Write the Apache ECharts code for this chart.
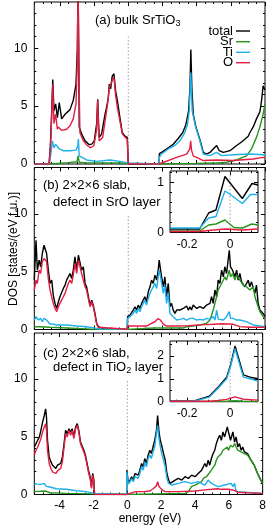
<!DOCTYPE html>
<html><head><meta charset="utf-8">
<script src="https://cdn.jsdelivr.net/npm/echarts@6/dist/echarts.min.js"></script>
<style>html,body{margin:0;padding:0;background:#fff}#c{width:269px;height:525px}</style>
</head><body><div id="c"></div>
<script>
// ---------- tick values ----------
const xMajor = [-4, -2, 0, 2, 4, 6, 8];
const xMinor = [-5.5,-5,-4.5,-4,-3.5,-3,-2.5,-2,-1.5,-1,-0.5,0,0.5,1,1.5,2,2.5,3,3.5,4,4.5,5,5.5,6,6.5,7,7.5,8];
const yMajor = [0, 5, 10];
const yMinor = [1,2,3,4,6,7,8,9,11,12,13];
const insXMajor = [-0.2, 0];
const insXMinor = [-0.25,-0.15,-0.1,-0.05,0.05,0.1];
const insBYMajor = [0, 1];
const insBYMinor = [0.2,0.4,0.6,0.8,1.2];
const insCYMajor = [0, 1, 2];
const insCYMinor = [0.5,1.5,2.5];

// ---------- panel (a) bulk SrTiO3 ----------
const aTotal = [[-5.5,0],[-4.64,0],[-4.56,1.5],[-4.48,4.6],[-4.42,7.3],[-4.35,4.6],[-4.25,5.2],[-4.15,4.0],[-4.04,5.3],[-3.9,3.9],[-3.7,4.3],[-3.61,4.2],[-3.41,4.7],[-3.22,5.5],[-3.06,6.9],[-2.98,10],[-2.94,16],[-2.9,10],[-2.87,3.2],[-2.73,2.6],[-2.53,2.0],[-2.28,1.67],[-2.14,1.72],[-1.99,2.0],[-1.85,3.5],[-1.79,5.6],[-1.74,3.5],[-1.7,2.3],[-1.56,2.6],[-1.36,4.3],[-1.27,4.9],[-1.17,5.7],[-1.11,6.9],[-1.03,6.5],[-0.94,7.6],[-0.84,7.8],[-0.74,6.3],[-0.64,5.5],[-0.49,4.0],[-0.35,2.7],[-0.19,2.4],[-0.06,2.3],[-0.01,2.2],[0,0],[1.8,0],[1.82,0.9],[1.95,1.0],[2.34,1.4],[2.63,1.7],[2.92,2.2],[3.18,2.7],[3.37,3.4],[3.53,4.6],[3.61,6.6],[3.66,9.9],[3.72,6.6],[3.8,4.3],[3.96,3.2],[4.15,2.3],[4.27,1.7],[4.39,1.0],[4.58,0.86],[4.78,1.0],[4.97,1.3],[5.17,1.6],[5.32,1.15],[5.56,1.0],[5.95,1.15],[6.34,1.6],[6.63,1.9],[7.02,2.4],[7.11,2.7],[7.31,3.2],[7.5,3.9],[7.7,4.5],[7.8,5.5],[7.89,6.75],[8,6.4]];
const aSr = [[-5.5,0],[-4.62,0],[-4.55,0.08],[-3.5,0.12],[-3.0,0.2],[-2.94,0.7],[-2.87,0.15],[-2.5,0.1],[-1.5,0.1],[-0.5,0.08],[-0.01,0.05],[0,0],[1.8,0],[1.85,0.02],[4.0,0.05],[5.0,0.08],[5.75,0.15],[6.34,0.35],[6.92,0.7],[7.21,1.3],[7.5,2.3],[7.7,3.2],[7.89,4.3],[8,5.2]];
const aTi = [[-5.5,0],[-4.62,0],[-4.52,1.0],[-4.44,2.0],[-4.35,1.4],[-4.25,1.7],[-4.04,1.3],[-3.8,1.15],[-3.41,1.15],[-3.06,1.2],[-2.96,1.5],[-2.92,2.15],[-2.87,0.7],[-2.83,0.57],[-2.44,0.35],[-1.85,0.23],[-1.07,0.35],[-0.49,0.23],[-0.06,0.1],[0,0],[1.8,0],[1.82,0.6],[1.95,0.86],[2.34,1.3],[2.73,1.6],[3.02,2.0],[3.27,2.6],[3.45,3.3],[3.57,4.6],[3.66,7.9],[3.74,4.6],[3.94,3.2],[4.19,2.0],[4.39,0.86],[4.78,0.72],[5.17,1.0],[5.46,0.72],[6.14,0.8],[7.11,0.86],[7.89,0.8],[8,0.8]];
const aO = [[-5.5,0],[-4.62,0],[-4.52,2.5],[-4.42,6.9],[-4.35,3.5],[-4.25,4.3],[-4.15,3.0],[-4.09,3.2],[-3.9,2.9],[-3.61,3.0],[-3.41,3.3],[-3.22,3.9],[-3.06,5.2],[-2.98,9],[-2.94,16],[-2.9,9],[-2.83,2.7],[-2.63,2.0],[-2.4,1.6],[-2.2,1.4],[-2.01,1.6],[-1.85,3.0],[-1.79,5.5],[-1.74,3.0],[-1.7,2.0],[-1.5,2.3],[-1.36,3.7],[-1.21,5.2],[-1.11,6.6],[-0.94,7.2],[-0.84,7.5],[-0.74,5.9],[-0.64,4.9],[-0.49,3.7],[-0.35,2.6],[-0.18,2.3],[-0.06,2.15],[-0.01,2.1],[0,0],[1.8,0],[1.85,0.15],[2.83,0.57],[3.41,0.86],[3.6,1.3],[3.65,2.0],[3.7,1.2],[3.8,0.7],[4.39,0.3],[5.17,0.35],[6.14,0.3],[7.31,0.43],[7.89,0.57],[8,0.55]];

// ---------- panel (b) defect in SrO layer ----------
const bTotal = [[-5.5,4.27],[-5.4,7.72],[-5.32,5.13],[-5.22,5.99],[-5.13,5.42],[-5.03,6.57],[-4.93,7.28],[-4.83,7.28],[-4.78,6.57],[-4.68,5.13],[-4.58,3.98],[-4.48,4.27],[-4.39,2.97],[-4.29,2.26],[-4.19,1.82],[-4.09,2.4],[-4.0,2.83],[-3.9,2.97],[-3.8,3.55],[-3.7,3.84],[-3.61,4.27],[-3.51,4.55],[-3.41,4.84],[-3.31,4.41],[-3.22,5.13],[-3.12,6.28],[-3.02,5.13],[-2.92,6.42],[-2.83,6.57],[-2.73,5.13],[-2.63,5.42],[-2.53,3.98],[-2.44,3.69],[-2.34,3.55],[-2.24,2.11],[-2.14,2.54],[-2.05,2.11],[-1.95,1.39],[-1.85,0.53],[-1.75,0.24],[-1.66,0.1],[-1.4,0.04],[-0.06,0.03],[-0.04,1.11],[0.1,1.25],[0.19,1.45],[0.29,1.68],[0.39,1.97],[0.49,1.68],[0.58,2.11],[0.68,1.82],[0.78,2.26],[0.88,2.4],[0.97,2.83],[1.07,2.4],[1.17,3.26],[1.27,3.69],[1.36,4.27],[1.46,3.98],[1.56,4.7],[1.66,4.27],[1.75,5.13],[1.81,5.99],[1.89,5.13],[1.95,4.55],[2.05,3.69],[2.14,4.55],[2.24,2.83],[2.34,3.98],[2.44,1.97],[2.53,2.26],[2.63,1.68],[2.73,1.39],[2.83,1.68],[2.92,1.54],[3.02,1.68],[3.22,1.82],[3.31,1.68],[3.41,2.03],[3.51,1.68],[3.61,1.97],[3.7,1.68],[3.8,2.11],[4.0,1.82],[4.19,1.97],[4.39,1.82],[4.58,2.11],[4.78,2.26],[4.87,2.83],[4.97,2.26],[5.07,3.41],[5.17,2.83],[5.26,4.27],[5.36,3.98],[5.46,5.13],[5.56,4.55],[5.65,5.42],[5.75,4.84],[5.91,6.85],[5.98,5.42],[6.1,5.13],[6.24,4.55],[6.34,5.13],[6.43,4.27],[6.53,4.84],[6.63,4.12],[6.73,4.27],[6.82,3.69],[6.92,3.98],[7.02,4.27],[7.11,3.69],[7.21,4.12],[7.31,4.27],[7.41,3.12],[7.5,3.84],[7.6,2.26],[7.7,1.68],[7.89,1.39],[8,1.11]];
const bSr = [[-5.5,0.24],[-5.4,0.39],[-5.22,0.24],[-4.58,0.19],[-3.61,0.13],[-1.85,0.01],[-0.06,0.01],[-0.04,0.13],[1.5,0.13],[3.22,0.13],[3.41,0.24],[4.19,0.39],[4.58,0.53],[4.78,0.82],[4.97,1.68],[5.07,2.26],[5.17,2.83],[5.26,3.41],[5.36,3.69],[5.46,3.98],[5.56,4.27],[5.65,4.55],[5.75,4.27],[5.91,5.13],[5.98,4.55],[6.1,4.84],[6.24,4.27],[6.34,4.7],[6.53,4.27],[6.73,3.84],[6.92,3.69],[7.11,3.41],[7.31,3.69],[7.41,2.83],[7.5,2.97],[7.6,1.97],[7.7,1.54],[7.89,1.11],[8,0.96]];
const bTi = [[-5.5,0.82],[-5.4,1.11],[-5.26,0.82],[-5.13,0.96],[-5.03,0.68],[-4.93,0.96],[-4.78,0.82],[-4.58,0.47],[-4.39,0.47],[-4.19,0.39],[-3.61,0.39],[-3.02,0.3],[-2.44,0.24],[-1.85,0.1],[-1.66,0.04],[-0.06,0.03],[-0.04,0.96],[0.1,1.11],[0.19,1.25],[0.29,1.39],[0.39,1.68],[0.49,1.39],[0.58,1.82],[0.68,1.54],[0.78,1.97],[0.88,2.11],[0.97,2.54],[1.07,2.11],[1.17,2.69],[1.27,3.12],[1.36,3.41],[1.46,3.26],[1.56,3.98],[1.66,3.55],[1.75,4.55],[1.81,5.13],[1.89,4.55],[1.95,3.98],[2.05,3.12],[2.14,3.84],[2.24,2.26],[2.34,3.12],[2.44,1.39],[2.53,1.25],[2.63,1.11],[2.83,0.82],[3.02,0.88],[3.22,0.96],[3.41,0.82],[3.61,0.96],[3.8,0.96],[4.0,0.82],[4.19,0.88],[4.39,0.82],[4.58,0.96],[4.78,0.88],[4.97,1.11],[5.07,0.82],[5.17,1.68],[5.26,0.9],[5.36,0.96],[5.56,0.82],[5.75,1.11],[5.91,1.54],[5.98,0.96],[6.14,0.96],[6.34,0.82],[6.53,0.82],[6.92,0.68],[7.31,0.39],[7.7,0.3],[8,0.24]];
const bO = [[-5.5,3.41],[-5.4,4.27],[-5.32,3.98],[-5.22,5.13],[-5.13,4.84],[-5.03,5.85],[-4.93,6.14],[-4.83,6.14],[-4.78,5.85],[-4.68,4.41],[-4.58,3.41],[-4.48,3.26],[-4.39,2.26],[-4.29,1.82],[-4.19,1.54],[-4.09,1.97],[-4.0,2.26],[-3.9,2.4],[-3.8,2.83],[-3.7,3.12],[-3.61,3.55],[-3.51,3.98],[-3.41,4.27],[-3.31,3.98],[-3.22,4.7],[-3.12,5.7],[-3.02,4.84],[-2.92,5.99],[-2.83,6.14],[-2.73,4.84],[-2.63,4.99],[-2.53,3.69],[-2.44,3.41],[-2.34,3.26],[-2.24,1.97],[-2.14,2.4],[-2.05,1.97],[-1.95,1.25],[-1.85,0.47],[-1.75,0.19],[-1.66,0.04],[-0.06,0.02],[-0.04,0.3],[0.5,0.3],[1.07,0.3],[1.27,0.47],[1.56,0.67],[1.75,0.95],[1.81,1.0],[1.89,0.8],[2.05,0.47],[2.24,0.3],[2.63,0.3],[3.5,0.32],[4.19,0.4],[4.97,0.45],[5.5,0.5],[6.14,0.45],[6.53,0.25],[7.11,0.2],[8,0.2]];

// ---------- panel (c) defect in TiO2 layer ----------
const cTotal = [[-5.5,4.12],[-5.4,4.41],[-5.3,4.7],[-5.2,4.99],[-5.11,5.56],[-5.01,6.28],[-4.91,6.85],[-4.83,7.43],[-4.78,6.71],[-4.72,4.7],[-4.62,3.26],[-4.52,2.83],[-4.42,2.54],[-4.33,2.4],[-4.23,2.26],[-4.13,2.54],[-4.04,2.4],[-3.94,2.69],[-3.84,3.26],[-3.74,4.41],[-3.65,5.56],[-3.55,5.27],[-3.45,5.7],[-3.35,5.42],[-3.26,5.7],[-3.16,4.99],[-3.06,5.85],[-2.96,6.14],[-2.87,5.56],[-2.77,4.55],[-2.67,4.7],[-2.57,3.84],[-2.48,3.41],[-2.38,2.69],[-2.28,1.97],[-2.2,1.54],[-2.12,0.68],[-2.05,1.82],[-1.99,1.39],[-1.95,0.3],[-1.93,0],[-0.04,0],[-0.03,2.11],[0.06,0.96],[0.16,1.25],[0.25,1.54],[0.35,1.25],[0.45,1.82],[0.55,1.97],[0.64,1.68],[0.74,2.11],[0.84,2.69],[0.94,2.4],[1.03,3.12],[1.13,2.69],[1.23,3.41],[1.33,3.84],[1.42,3.55],[1.52,4.12],[1.62,4.7],[1.72,5.56],[1.79,6.85],[1.87,5.42],[1.95,4.7],[2.05,4.12],[2.14,3.55],[2.24,2.97],[2.34,1.82],[2.44,1.25],[2.53,0.96],[2.63,1.11],[2.83,1.25],[3.02,1.39],[3.22,1.25],[3.41,1.54],[3.61,1.39],[3.8,1.68],[4.0,1.54],[4.19,1.82],[4.39,2.11],[4.49,2.4],[4.58,2.69],[4.68,2.4],[4.78,2.97],[4.87,2.54],[4.97,3.12],[5.07,3.55],[5.17,3.84],[5.26,4.41],[5.36,4.84],[5.46,5.13],[5.56,4.7],[5.65,5.42],[5.75,4.99],[5.91,5.85],[5.98,5.42],[6.1,4.7],[6.24,5.42],[6.34,4.55],[6.43,4.99],[6.53,4.12],[6.63,4.41],[6.73,3.84],[6.82,4.12],[6.92,3.69],[7.02,3.84],[7.11,3.55],[7.31,2.97],[7.5,2.54],[7.7,1.82],[7.89,1.25],[8,0.96]];
const cSr = [[-5.5,0.25],[-4.83,0.3],[-4.58,0.15],[-3.61,0.1],[-1.99,0.05],[-1.93,0],[-0.04,0],[-0.03,0.1],[3.41,0.1],[3.61,0.25],[3.8,0.7],[4.0,0.82],[4.19,0.96],[4.39,1.11],[4.49,1.39],[4.58,1.25],[4.68,1.54],[4.78,1.39],[4.97,2.11],[5.07,1.97],[5.17,2.54],[5.26,2.97],[5.36,3.26],[5.46,3.41],[5.56,3.55],[5.65,3.84],[5.75,3.69],[5.91,4.12],[5.98,3.84],[6.1,4.27],[6.24,4.12],[6.34,4.41],[6.43,4.12],[6.53,3.84],[6.63,3.98],[6.73,3.69],[6.92,3.55],[7.11,3.41],[7.31,2.97],[7.5,2.54],[7.7,1.82],[7.89,1.25],[8,0.96]];
const cTi = [[-5.5,0.96],[-5.36,0.9],[-5.11,0.88],[-4.93,0.96],[-4.83,1.1],[-4.78,0.7],[-4.58,0.65],[-4.19,0.5],[-3.61,0.45],[-3.02,0.33],[-2.44,0.25],[-1.99,0.1],[-1.93,0],[-0.04,0],[-0.03,1.97],[0.06,0.91],[0.16,1.11],[0.25,1.39],[0.35,1.11],[0.45,1.54],[0.55,1.68],[0.64,1.39],[0.74,1.82],[0.84,2.4],[0.94,2.11],[1.03,2.83],[1.13,2.4],[1.23,3.12],[1.33,3.41],[1.42,3.12],[1.52,3.69],[1.62,4.12],[1.72,5.27],[1.79,5.99],[1.87,4.84],[1.95,4.12],[2.05,3.41],[2.14,2.97],[2.24,2.4],[2.34,1.39],[2.44,0.96],[2.63,0.82],[3.02,0.96],[3.41,1.11],[3.8,0.96],[4.19,1.11],[4.58,0.82],[4.78,1.25],[4.97,0.96],[5.17,0.82],[5.36,0.68],[5.75,0.82],[6.14,0.96],[6.24,0.68],[6.34,0.96],[6.43,0.24],[6.53,0.16],[8,0.1]];
const cO = [[-5.5,3.41],[-5.4,3.84],[-5.3,4.12],[-5.2,4.27],[-5.11,4.84],[-5.01,5.42],[-4.91,5.85],[-4.83,6.14],[-4.78,5.56],[-4.72,3.84],[-4.62,2.69],[-4.52,2.26],[-4.42,1.97],[-4.33,1.82],[-4.23,1.82],[-4.13,2.05],[-4.04,1.97],[-3.94,2.26],[-3.84,2.83],[-3.74,4.12],[-3.65,5.27],[-3.55,4.99],[-3.45,5.56],[-3.35,5.13],[-3.26,5.56],[-3.16,4.84],[-3.06,5.7],[-2.96,5.99],[-2.87,5.42],[-2.77,4.41],[-2.67,4.55],[-2.57,3.69],[-2.48,3.26],[-2.38,2.54],[-2.28,1.82],[-2.2,1.39],[-2.12,0.53],[-2.05,1.68],[-1.99,1.25],[-1.95,0.2],[-1.93,0],[-0.04,0],[-0.03,0.15],[0.5,0.25],[1.0,0.25],[1.33,0.3],[1.52,0.5],[1.72,0.75],[1.79,1.1],[1.87,0.7],[2.05,0.4],[2.24,0.25],[3.0,0.25],[4.0,0.3],[4.58,0.4],[5.0,0.45],[5.36,0.5],[5.5,0.45],[5.98,0.45],[6.34,0.35],[6.53,0.2],[7.11,0.15],[8,0.1]];

// ---------- insets ----------
const ibTotal = [[-0.28,0.07],[-0.142,0.07],[-0.1,0.39],[-0.066,0.45],[-0.024,1.12],[0.057,0.68],[0.102,0.98],[0.13,0.95]];
const ibTi = [[-0.28,0.09],[-0.142,0.09],[-0.1,0.29],[-0.066,0.32],[-0.024,0.83],[-0.005,0.78],[0.057,0.58],[0.095,0.76],[0.13,0.76]];
const ibSr = [[-0.28,0.03],[-0.142,0.03],[-0.1,0.15],[-0.066,0.17],[-0.024,0.25],[0.018,0.1],[0.057,0.09],[0.102,0.17],[0.13,0.15]];
const ibO = [[-0.28,0.02],[-0.142,0.02],[-0.1,0.04],[-0.024,0.07],[0.057,0.05],[0.13,0.07]];
const icTotal = [[-0.28,0.03],[-0.171,0.03],[-0.156,0.07],[-0.097,0.24],[-0.055,0.64],[-0.016,1.07],[0.003,1.64],[0.023,2.43],[0.041,1.86],[0.062,1.17],[0.093,1.07],[0.13,1.0]];
const icTi = [[-0.28,0.02],[-0.171,0.02],[-0.156,0.05],[-0.097,0.2],[-0.055,0.6],[-0.016,1.0],[0.003,1.57],[0.023,2.31],[0.041,1.74],[0.062,1.07],[0.093,1.0],[0.13,0.9]];
const icSr = [[-0.28,0.01],[-0.016,0.02],[0.023,0.04],[0.062,0.02],[0.13,0.01]];
const icO = [[-0.28,0.02],[-0.097,0.02],[-0.055,0.05],[-0.016,0.1],[0.023,0.21],[0.062,0.11],[0.13,0.07]];

// ---------- styling ----------
const FONT = "'Liberation Sans', Arial, Helvetica, sans-serif";
const COL = {total:'#000000', Sr:'#27941d', Ti:'#1eb0ea', O:'#e21e42'};
const LW = 1.4;

const grid = [
  {left:34.3, top:2, width:230.7, height:162},
  {left:34.3, top:167.5, width:230.7, height:162},
  {left:34.3, top:333, width:230.7, height:161.5},
  {left:170, top:171, width:88, height:61.5, z:10},
  {left:170, top:341, width:88, height:60.7, z:10}
].map(g => Object.assign({show:true, borderColor:'#000', borderWidth:1, backgroundColor: g.z ? '#fff' : 'transparent', containLabel:false}, g));

const xAxis = [], yAxis = [];
function addAxes(gi, c, z) {
  const base = {gridIndex:gi, type:'value', axisLine:{show:false, onZero:false}, splitLine:{show:false}, z:z};
  const lab = {fontFamily:FONT, fontSize:12, color:'#000'};
  const xi = xAxis.length, yi = yAxis.length;
  const mk = (pos, vals, len, showLab, labVals, margin, min, max) => Object.assign({}, base, {
    position:pos, min:min, max:max,
    axisTick:{show:true, inside:true, length:len, customValues:vals, lineStyle:{color:'#000', width:1}},
    axisLabel: showLab ? Object.assign({show:true, customValues:labVals, margin:margin}, lab) : {show:false}
  });
  xAxis.push(mk('bottom', c.xMaj, 4, c.showX, c.xMaj, c.xMargin, c.xmin, c.xmax));
  xAxis.push(mk('bottom', c.xMin, 2, false, null, 0, c.xmin, c.xmax));
  xAxis.push(mk('top', c.xMaj, 4, false, null, 0, c.xmin, c.xmax));
  xAxis.push(mk('top', c.xMin, 2, false, null, 0, c.xmin, c.xmax));
  yAxis.push(mk('left', c.yMaj, 4, true, c.yMaj, c.yMargin, c.ymin, c.ymax));
  yAxis.push(mk('left', c.yMin, 2, false, null, 0, c.ymin, c.ymax));
  yAxis.push(mk('right', c.yMaj, 4, false, null, 0, c.ymin, c.ymax));
  yAxis.push(mk('right', c.yMin, 2, false, null, 0, c.ymin, c.ymax));
  return {xi, yi};
}
const mainCfg = (show) => ({xmin:-5.5, xmax:8, xMaj:xMajor, xMin:xMinor, showX:show, xMargin:5, ymin:0, ymax:14, yMaj:yMajor, yMin:yMinor, yMargin:7});
const axA = addAxes(0, mainCfg(false), 0);
const axB = addAxes(1, mainCfg(false), 0);
const axC = addAxes(2, mainCfg(true), 0);
const axIB = addAxes(3, {xmin:-0.28, xmax:0.13, xMaj:insXMajor, xMin:insXMinor, showX:true, xMargin:6, ymin:0, ymax:1.23, yMaj:insBYMajor, yMin:insBYMinor, yMargin:6}, 11);
const axIC = addAxes(4, {xmin:-0.28, xmax:0.13, xMaj:insXMajor, xMin:insXMinor, showX:true, xMargin:6, ymin:0, ymax:2.65, yMaj:insCYMajor, yMin:insCYMinor, yMargin:6}, 11);

function line(data, color, ax, z) {
  return {type:'line', data:data, xAxisIndex:ax.xi, yAxisIndex:ax.yi, showSymbol:false, symbol:'none',
    lineStyle:{color:color, width:LW}, itemStyle:{color:color}, z:z, animation:false, silent:true, clip:true};
}
function zeroLine(top, ax, z) {
  return {type:'line', data:[[0,0],[0,top]], xAxisIndex:ax.xi, yAxisIndex:ax.yi, showSymbol:false, symbol:'none',
    lineStyle:{color:'#8a8a8a', width:0.8, type:[1.5,2]}, z:z, animation:false, silent:true};
}
const zeroTops = [11, 10, 10];
const series = [];
[[axA, aTotal, aSr, aTi, aO, zeroTops[0]], [axB, bTotal, bSr, bTi, bO, zeroTops[1]], [axC, cTotal, cSr, cTi, cO, zeroTops[2]]].forEach(p => {
  series.push(zeroLine(p[5], p[0], 1));
  series.push(line(p[1], COL.total, p[0], 2));
  series.push(line(p[2], COL.Sr, p[0], 3));
  series.push(line(p[3], COL.Ti, p[0], 4));
  series.push(line(p[4], COL.O, p[0], 5));
});
[[axIB, ibTotal, ibSr, ibTi, ibO, 1.23], [axIC, icTotal, icSr, icTi, icO, 2.65]].forEach(p => {
  series.push(zeroLine(p[5], p[0], 12));
  series.push(line(p[1], COL.total, p[0], 13));
  series.push(line(p[2], COL.Sr, p[0], 14));
  series.push(line(p[3], COL.Ti, p[0], 15));
  series.push(line(p[4], COL.O, p[0], 16));
});

// ---------- texts ----------
const legendNames = ['total', 'Sr', 'Ti', 'O'];
const legendCols = [COL.total, COL.Sr, COL.Ti, COL.O];
const legendY = [31, 41.7, 52.3, 62.7];
const rich = {n:{fontFamily:FONT, fontSize:13, fill:'#000'}, s:{fontFamily:FONT, fontSize:9, fill:'#000', padding:[7,0,0,0]}};
const graphic = [];
function txt(x, y, text, opts) {
  graphic.push(Object.assign({type:'text', x:x, y:y, z:30, style:Object.assign({text:text, fontFamily:FONT, fontSize:13, fill:'#000', textAlign:'left', textVerticalAlign:'middle'}, opts || {})}));
}
graphic.push({type:'text', x:95, y:20, z:30, style:{text:'{n|(a) bulk SrTiO}{s|3}', rich:rich, textAlign:'left', textVerticalAlign:'middle'}});
txt(43, 185, '(b) 2×2×6 slab,');
txt(53, 202, 'defect in SrO layer');
txt(43, 353, '(c) 2×2×6 slab,');
graphic.push({type:'text', x:53, y:367, z:30, style:{text:'{n|defect in TiO}{s|2}{n| layer}', rich:rich, textAlign:'left', textVerticalAlign:'middle'}});
legendNames.forEach((nm, i) => {
  txt(233, legendY[i], nm, {textAlign:'right'});
  graphic.push({type:'line', z:30, shape:{x1:236, y1:legendY[i], x2:250, y2:legendY[i]}, style:{stroke:legendCols[i], lineWidth:LW}});
});
graphic.push({type:'text', x:14, y:249, rotation:Math.PI/2, z:30, style:{text:'DOS [states/(eV f.u.)]', fontFamily:FONT, fontSize:12, fill:'#000', textAlign:'center', textVerticalAlign:'middle'}});
txt(150, 519, 'energy (eV)', {textAlign:'center', fontSize:12});

const chart = echarts.init(document.getElementById('c'), null, {renderer:'canvas'});
chart.setOption({animation:false, backgroundColor:'#fff', grid:grid, xAxis:xAxis, yAxis:yAxis, series:series, graphic:graphic});
</script></body></html>
